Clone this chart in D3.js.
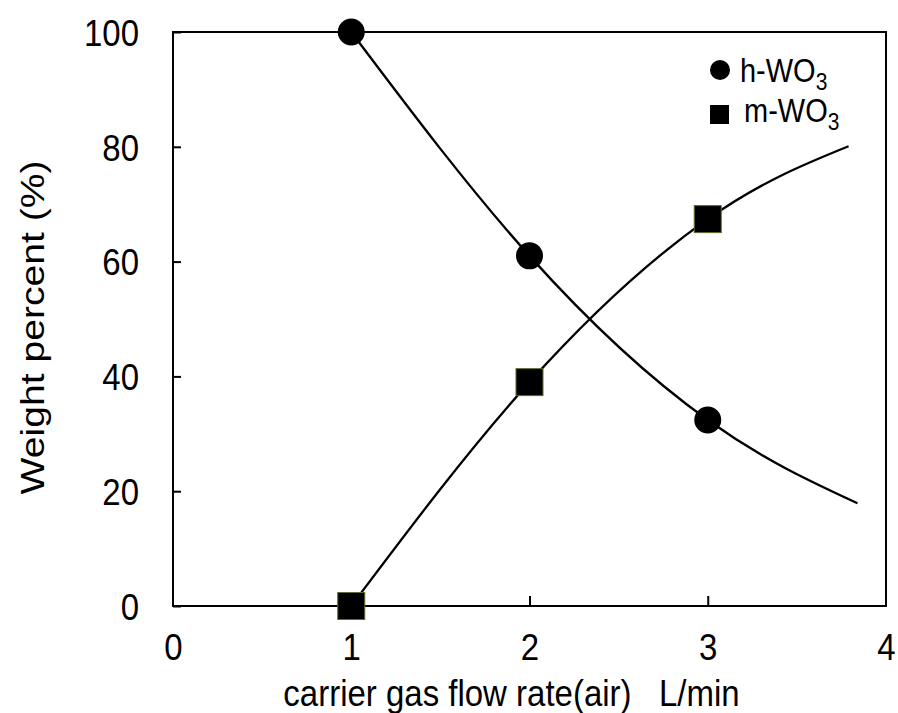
<!DOCTYPE html>
<html>
<head>
<meta charset="utf-8">
<script src="https://cdn.jsdelivr.net/npm/d3@7"></script>
<style>
  html, body { margin: 0; padding: 0; background: #fff; }
  svg { display: block; font-family: "Liberation Sans", Arial, sans-serif; }
</style>
</head>
<body>
<svg id="chart" width="898" height="713"></svg>
<script>
// Measured phase fractions vs. carrier gas flow rate
const flowRates = [1, 2, 3];
const hWO3 = [100, 61, 32.4];
const mWO3 = [0, 39, 67.4];

// Trend-curve knots (measured points plus the curve end points)
const hFitX = [1, 2, 3, 3.84];
const hFitY = [100, 61, 32.4, 17.9];
const mFitX = [1, 2, 3, 3.79];
const mFitY = [0, 39, 67.4, 80.1];

const xTicks = [0, 1, 2, 3, 4];
const yTicks = [0, 20, 40, 60, 80, 100];

const svg = d3.select("#chart");
const m = { left: 173, right: 886, top: 32, bottom: 606 };
const stretch = 1.12; // glyphs are drawn slightly tall

const x = d3.scaleLinear().domain([0, 4]).range([m.left, m.right]);
const y = d3.scaleLinear().domain([0, 100]).range([m.bottom, m.top]);

// Axes with inward ticks
const xAxis = svg.append("g")
  .attr("transform", `translate(0,${m.bottom})`)
  .call(d3.axisBottom(x).tickValues(xTicks).tickSize(-10).tickPadding(0).tickFormat(d3.format("d")));
const yAxis = svg.append("g")
  .attr("transform", `translate(${m.left},0)`)
  .call(d3.axisLeft(y).tickValues(yTicks).tickSize(-8).tickPadding(0).tickFormat(d3.format("d")));

[xAxis, yAxis].forEach(g => {
  g.select(".domain").remove();
  g.selectAll(".tick line").attr("stroke", "#000").attr("stroke-width", 2);
  g.selectAll(".tick text").attr("fill", "#000").style("font-size", "33px")
    .style("font-family", "'Liberation Sans', Arial, sans-serif");
});
xAxis.selectAll(".tick text")
  .attr("y", 0).attr("dy", null)
  .attr("transform", `translate(0,54) scale(1,${stretch})`);
yAxis.selectAll(".tick text")
  .attr("x", 0).attr("dy", "0.36em")
  .attr("transform", `translate(-34,0) scale(1,${stretch})`);
xAxis.selectAll(".tick").filter(d => d === 0 || d === 4).select("line").remove();

// Plot frame
svg.append("rect")
  .attr("x", m.left).attr("y", m.top)
  .attr("width", m.right - m.left).attr("height", m.bottom - m.top)
  .attr("fill", "none").attr("stroke", "#000").attr("stroke-width", 2);

// Trend curves
const line = d3.line().x(d => x(d[0])).y(d => y(d[1])).curve(d3.curveNatural);
const hFit = hFitX.map((v, i) => [v, hFitY[i]]);
const mFit = mFitX.map((v, i) => [v, mFitY[i]]);
[hFit, mFit].forEach(pts => {
  svg.append("path").attr("d", line(pts))
    .attr("fill", "none").attr("stroke", "#000").attr("stroke-width", 2.3);
});

// Markers
svg.append("g").selectAll("circle")
  .data(flowRates.map((v, i) => [v, hWO3[i]]))
  .join("circle")
  .attr("cx", d => x(d[0])).attr("cy", d => y(d[1])).attr("r", 13.5)
  .attr("fill", "#000");

const sq = 27;
svg.append("g").selectAll("rect")
  .data(flowRates.map((v, i) => [v, mWO3[i]]))
  .join("rect")
  .attr("x", d => x(d[0]) - sq / 2).attr("y", d => y(d[1]) - sq / 2)
  .attr("width", sq).attr("height", sq)
  .attr("fill", "#000").attr("stroke", "#5f6b2a").attr("stroke-width", 1);

// Legend
const legend = svg.append("g");
legend.append("circle").attr("cx", 720).attr("cy", 70).attr("r", 10).attr("fill", "#000");
legend.append("rect").attr("x", 710).attr("y", 105).attr("width", 19).attr("height", 19).attr("fill", "#000");
const lt = [{ t: "h-WO", y: 82, x: 740 }, { t: "m-WO", y: 122, x: 744 }];
lt.forEach(d => {
  const txt = legend.append("text")
    .attr("transform", `translate(${d.x},${d.y}) scale(1,${stretch})`)
    .style("font-size", "29px").attr("fill", "#000");
  txt.append("tspan").text(d.t);
  txt.append("tspan").attr("dy", 7).style("font-size", "21px").text("3");
});

// Axis titles
svg.append("text")
  .attr("transform", `translate(${(282 + 741) / 2},706) scale(1,${stretch})`)
  .attr("text-anchor", "middle").style("font-size", "33px").attr("fill", "#000")
  .attr("xml:space", "preserve")
  .text("carrier gas flow rate(air)   L/min");

svg.append("text")
  .attr("transform", `translate(44,${(163 + 492) / 2}) rotate(-90) scale(1.15,1)`)
  .attr("text-anchor", "middle").style("font-size", "34px").attr("fill", "#000")
  .text("Weight percent (%)");
</script>
</body>
</html>
